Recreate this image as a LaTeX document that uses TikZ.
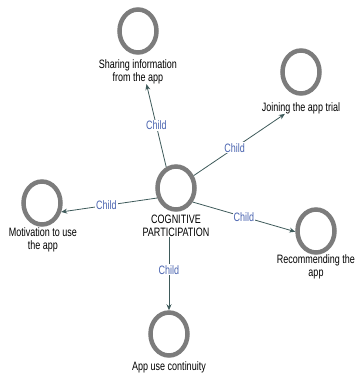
\documentclass[tikz,border=0pt]{standalone}
\usepackage{fontspec}
\setmainfont{Liberation Sans}
\usetikzlibrary{shapes.geometric,arrows.meta}
\definecolor{ringgray}{HTML}{7C7C7C}
\definecolor{edgecol}{HTML}{3E5A5A}
\definecolor{childblue}{HTML}{4A64B0}
% narrow, tall lettering
\newcommand{\tallln}[1]{\scalebox{1}[1.35]{#1}}
\tikzset{
  ring/.style={ellipse, draw=ringgray, line width=4.5pt, minimum width=37pt, minimum height=43pt, inner sep=0pt},
  caption/.style={font=\fontsize{9}{12.5}\selectfont, align=center, inner sep=0pt, text=black},
  link/.style={draw=edgecol, line width=0.8pt, -{Stealth[length=6pt,width=5pt]}},
  childlbl/.style={font=\fontsize{9}{11}\selectfont, text=childblue, fill=white, inner sep=1pt}
}
\begin{document}
\begin{tikzpicture}[x=1pt,y=-1pt]
\useasboundingbox (0,0) rectangle (358,383);

% hub
\node[ring] (hub) at (176,188) {};
\node[caption] (hubtxt) at (176,226) {\tallln{COGNITIVE}\\\tallln{PARTICIPATION}};

% outer concepts
\node[ring] (share) at (138,31) {};
\node[caption] (sharetxt) at (138,72) {\tallln{Sharing information}\\\tallln{from the app}};

\node[ring] (join) at (301,72) {};
\node[caption] (jointxt) at (301,108) {\tallln{Joining the app trial}};

\node[ring] (motiv) at (42,203) {};
\node[caption] (motivtxt) at (43,240) {\tallln{Motivation to use}\\\tallln{the app}};

\node[ring] (recom) at (316,231) {};
\node[caption] (recomtxt) at (316,267) {\tallln{Recommending the}\\\tallln{app}};

\node[ring] (cont) at (169,334) {};
\node[caption] (conttxt) at (169,367) {\tallln{App use continuity}};

% connectors
\draw[link] (hub.115) -- node[childlbl, pos=0.5] {\tallln{Child}} (sharetxt.-55);
\draw[link] (hub.35) -- node[childlbl, pos=0.45] {\tallln{Child}} (jointxt.200);
\draw[link] (hub.208) -- node[childlbl, pos=0.53] {\tallln{Child}} (motiv.-25);
\draw[link] (hub.-40) -- node[childlbl, pos=0.5] {\tallln{Child}} (recom.182);
\draw[link] (hubtxt.south -| cont.north) -- node[childlbl, pos=0.45] {\tallln{Child}} (cont.north);
\end{tikzpicture}
\end{document}
